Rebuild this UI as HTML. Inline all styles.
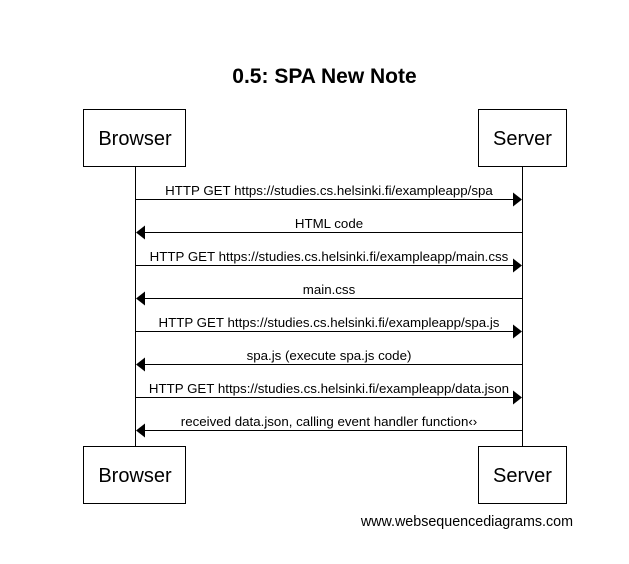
<!DOCTYPE html>
<html><head><meta charset="utf-8"><style>body{margin:0;background:#fff}</style></head><body>
<svg width="629" height="559" viewBox="0 0 629 559" xmlns="http://www.w3.org/2000/svg" font-family="Liberation Sans, Arial, sans-serif">
<rect width="629" height="559" fill="#fff"/>
<text x="324.5" y="83" font-size="21" font-weight="bold" text-anchor="middle">0.5: SPA New Note</text>
<g stroke="#000" stroke-width="1" fill="#fff">
<line x1="135.5" y1="166" x2="135.5" y2="446"/>
<line x1="522.5" y1="166" x2="522.5" y2="446"/>
<rect x="83.5" y="109.5" width="102" height="57"/>
<rect x="478.5" y="109.5" width="88" height="57"/>
<rect x="83.5" y="446.5" width="102" height="57"/>
<rect x="478.5" y="446.5" width="88" height="57"/>
</g>
<g font-size="20" text-anchor="middle">
<text x="135" y="145">Browser</text>
<text x="522.5" y="145">Server</text>
<text x="135" y="482">Browser</text>
<text x="522.5" y="482">Server</text>
</g>
<g stroke="#000" stroke-width="1">
<line x1="135" y1="199.5" x2="513" y2="199.5"/>
<line x1="145" y1="232.5" x2="522" y2="232.5"/>
<line x1="135" y1="265.5" x2="513" y2="265.5"/>
<line x1="145" y1="298.5" x2="522" y2="298.5"/>
<line x1="135" y1="331.5" x2="513" y2="331.5"/>
<line x1="145" y1="364.5" x2="522" y2="364.5"/>
<line x1="135" y1="397.5" x2="513" y2="397.5"/>
<line x1="145" y1="430.5" x2="522" y2="430.5"/>
</g>
<g fill="#000">
<polygon points="513,192.5 522,199.5 513,206.5"/>
<polygon points="145,225.5 136,232.5 145,239.5"/>
<polygon points="513,258.5 522,265.5 513,272.5"/>
<polygon points="145,291.5 136,298.5 145,305.5"/>
<polygon points="513,324.5 522,331.5 513,338.5"/>
<polygon points="145,357.5 136,364.5 145,371.5"/>
<polygon points="513,390.5 522,397.5 513,404.5"/>
<polygon points="145,423.5 136,430.5 145,437.5"/>
</g>
<g font-size="13.3" text-anchor="middle">
<text x="329" y="195">HTTP GET https://studies.cs.helsinki.fi/exampleapp/spa</text>
<text x="329" y="228">HTML code</text>
<text x="329" y="261">HTTP GET https://studies.cs.helsinki.fi/exampleapp/main.css</text>
<text x="329" y="294">main.css</text>
<text x="329" y="327">HTTP GET https://studies.cs.helsinki.fi/exampleapp/spa.js</text>
<text x="329" y="360">spa.js (execute spa.js code)</text>
<text x="329" y="393">HTTP GET https://studies.cs.helsinki.fi/exampleapp/data.json</text>
<text x="329" y="426">received data.json, calling event handler function‹›</text>
</g>
<text x="573" y="526" font-size="14.3" text-anchor="end">www.websequencediagrams.com</text>
</svg>
</body></html>
